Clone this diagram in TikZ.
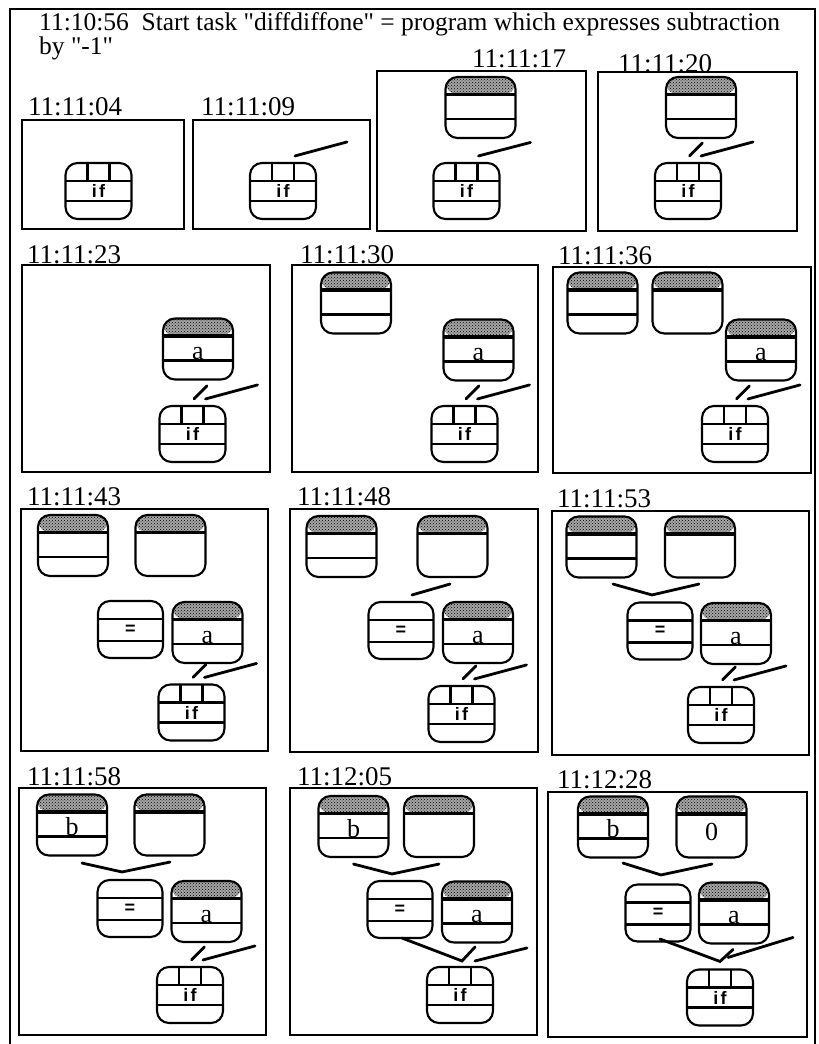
\documentclass[tikz,border=0pt]{standalone}
\usepackage{fontspec}
\setmainfont{Liberation Serif}[Ligatures=TeXOff]
\newfontfamily\cellfont{Liberation Sans}
\usetikzlibrary{calc,patterns}

\tikzset{
  panel/.style={draw,line width=2.6pt},
  stamp/.style={anchor=base west,inner sep=0pt,font=\fontsize{27}{27}\selectfont},
  wire/.style={line width=2.8pt,line cap=round},
  val/.style={anchor=base,inner sep=0pt,font=\fontsize{26}{26}\selectfont},
  ifbox/.style={draw,line width=2.1pt,rounded corners=12pt,minimum width=66pt,
    minimum height=56pt,inner sep=0pt,font=\cellfont\bfseries\fontsize{18}{18}\selectfont,
    path picture={
      \draw[line width=2.1pt]
        ([yshift=-18pt]path picture bounding box.north west) -- ([yshift=-18pt]path picture bounding box.north east)
        ([yshift=18pt]path picture bounding box.south west) -- ([yshift=18pt]path picture bounding box.south east)
        ([xshift=-11pt]path picture bounding box.north) -- ([xshift=-11pt,yshift=-18pt]path picture bounding box.north)
        ([xshift=11pt]path picture bounding box.north) -- ([xshift=11pt,yshift=-18pt]path picture bounding box.north);
    }},
  eqbox/.style={draw,line width=2.1pt,rounded corners=12pt,minimum width=65pt,
    minimum height=57pt,inner sep=0pt,font=\cellfont\bfseries\fontsize{18}{18}\selectfont,
    path picture={
      \draw[line width=2.1pt]
        ([yshift=-18pt]path picture bounding box.north west) -- ([yshift=-18pt]path picture bounding box.north east)
        ([yshift=17pt]path picture bounding box.south west) -- ([yshift=17pt]path picture bounding box.south east);
    }},
  varbox/.style={draw,line width=2.1pt,rounded corners=12pt,minimum width=70pt,
    minimum height=61pt,inner sep=0pt,
    path picture={
      \fill[gray!70] (path picture bounding box.north west) rectangle ([yshift=-17.5pt]path picture bounding box.north east);
      \fill[pattern=crosshatch dots] (path picture bounding box.north west) rectangle ([yshift=-17.5pt]path picture bounding box.north east);
      \draw[line width=3.6pt] ([yshift=-17.5pt]path picture bounding box.north west) -- ([yshift=-17.5pt]path picture bounding box.north east);
    }},
  cellbox/.style={varbox,
    path picture={
      \fill[gray!70] (path picture bounding box.north west) rectangle ([yshift=-17.5pt]path picture bounding box.north east);
      \fill[pattern=crosshatch dots] (path picture bounding box.north west) rectangle ([yshift=-17.5pt]path picture bounding box.north east);
      \draw[line width=3.6pt] ([yshift=-17.5pt]path picture bounding box.north west) -- ([yshift=-17.5pt]path picture bounding box.north east);
      \draw[line width=2.1pt] ([yshift=19pt]path picture bounding box.south west) -- ([yshift=19pt]path picture bounding box.south east);
    }},
}

\begin{document}
\begin{tikzpicture}[x=1pt,y=-1pt]
  \useasboundingbox (0,0) rectangle (819,1044);
  \draw[line width=2.6pt] (10,1044) -- (10,9) -- (815,9) -- (815,1044);
  \node[stamp,font=\fontsize{25.5}{25.5}\selectfont] (title) at (39,30) {11:10:56\ \ Start task "diffdiffone" = program which expresses subtraction};
  \node[stamp,font=\fontsize{25.5}{25.5}\selectfont] (title2) at (39,54) {by "-1"};

  % 11:11:04
  \draw[panel] (22,120) rectangle (184,229);
  \node[stamp] (t1) at (28,115) {11:11:04};
  \node[ifbox] (p1if) at (98.5,191) {i\kern2.5pt f};

  % 11:11:09
  \draw[panel] (193,120) rectangle (370,229);
  \node[stamp] (t2) at (201,115) {11:11:09};
  \node[ifbox] (p2if) at (283,191) {i\kern2.5pt f};
  \draw[wire] ($(p2if.north)+(12,-6)$) -- ++(52,-14);

  % 11:11:17
  \draw[panel] (377,71) rectangle (586,231);
  \node[stamp] (t3) at (472,67) {11:11:17};
  \node[cellbox] (p3v) at (480.5,107.5) {};
  \node[ifbox] (p3if) at (466.5,191) {i\kern2.5pt f};
  \draw[wire] ($(p3if.north)+(12,-6)$) -- ++(52,-13.5);

  % 11:11:20
  \draw[panel] (598,72) rectangle (797,231);
  \node[stamp] (t4) at (618,72) {11:11:20};
  \node[cellbox] (p4v) at (701,107.5) {};
  \node[ifbox] (p4if) at (688,191) {i\kern2.5pt f};
  \draw[wire] ($(p4if.north)+(1.5,-6)$) -- ++(13,-13);
  \draw[wire] ($(p4if.north)+(13,-6)$) -- ++(52,-14);

  % 11:11:23
  \draw[panel] (22,265) rectangle (270,472);
  \node[stamp] (t5) at (27,263) {11:11:23};
  \node[cellbox] (p5a) at (198,349) {};
  \node[val] (p5at) at ([yshift=-10.5pt]p5a.center) {a};
  \node[ifbox] (p5if) at (192.5,434) {i\kern2.5pt f};
  \draw[wire] ($(p5if.north)+(1.5,-6)$) -- ++(13,-13);
  \draw[wire] ($(p5if.north)+(13,-6)$) -- ++(52,-14);

  % 11:11:30
  \draw[panel] (292,265) rectangle (538,472);
  \node[stamp] (t6) at (300,263) {11:11:30};
  \node[cellbox] (p6v) at (356,303) {};
  \node[cellbox] (p6a) at (478.5,350) {};
  \node[val] (p6at) at ([yshift=-10.5pt]p6a.center) {a};
  \node[ifbox] (p6if) at (464.5,434) {i\kern2.5pt f};
  \draw[wire] ($(p6if.north)+(1.5,-6)$) -- ++(13,-13);
  \draw[wire] ($(p6if.north)+(13,-6)$) -- ++(52,-14);

  % 11:11:36
  \draw[panel] (553,267) rectangle (811,473);
  \node[stamp] (t7) at (558,264) {11:11:36};
  \node[cellbox] (p7v) at (602.5,303) {};
  \node[varbox] (p7w) at (687.5,303) {};
  \node[cellbox] (p7a) at (761,350) {};
  \node[val] (p7at) at ([yshift=-10.5pt]p7a.center) {a};
  \node[ifbox] (p7if) at (735,434) {i\kern2.5pt f};
  \draw[wire] ($(p7if.north)+(1.5,-6)$) -- ++(13,-13);
  \draw[wire] ($(p7if.north)+(13,-6)$) -- ++(52,-14);

  % 11:11:43
  \draw[panel] (21,509) rectangle (268,751);
  \node[stamp] (t8) at (27,505) {11:11:43};
  \node[cellbox] (p8v) at (73,545.5) {};
  \node[varbox] (p8w) at (170.5,545.5) {};
  \node[eqbox] (p8eq) at (130.5,629.5) {=};
  \node[cellbox] (p8a) at (207.5,632.5) {};
  \node[val] (p8at) at ([yshift=-10.5pt]p8a.center) {a};
  \node[ifbox] (p8if) at (191.5,712.5) {i\kern2.5pt f};
  \draw[wire] ($(p8if.north)+(1.5,-6)$) -- ++(13,-13);
  \draw[wire] ($(p8if.north)+(13,-6)$) -- ++(52,-14);

  % 11:11:48
  \draw[panel] (290,509) rectangle (538,752);
  \node[stamp] (t9) at (297,505) {11:11:48};
  \node[cellbox] (p9v) at (341.5,546.5) {};
  \node[varbox] (p9w) at (452.5,546.5) {};
  \node[eqbox] (p9eq) at (401,630.5) {=};
  \node[cellbox] (p9a) at (478,632.5) {};
  \node[val] (p9at) at ([yshift=-10.5pt]p9a.center) {a};
  \node[ifbox] (p9if) at (461.5,714) {i\kern2.5pt f};
  \draw[wire] ($(p9eq.north)+(11,-6)$) -- ($(p9w.south)+(-2.5,6)$);
  \draw[wire] ($(p9if.north)+(1.5,-6)$) -- ++(13,-13);
  \draw[wire] ($(p9if.north)+(13,-6)$) -- ++(52,-14);

  % 11:11:53
  \draw[panel] (552,511) rectangle (809,755);
  \node[stamp] (t10) at (557,507) {11:11:53};
  \node[cellbox] (p10v) at (601.5,547) {};
  \node[varbox] (p10w) at (700,547) {};
  \node[eqbox] (p10eq) at (660,631) {=};
  \node[cellbox] (p10a) at (736,633.5) {};
  \node[val] (p10at) at ([yshift=-10.5pt]p10a.center) {a};
  \node[ifbox] (p10if) at (721,715) {i\kern2.5pt f};
  \draw[wire] ($(p10v.south)+(11.5,5.5)$) -- ($(p10eq.north)+(-8,-6.5)$) -- ($(p10w.south)+(-1,5.5)$);
  \draw[wire] ($(p10if.north)+(1.5,-6)$) -- ++(13,-13);
  \draw[wire] ($(p10if.north)+(13,-6)$) -- ++(52,-14);

  % 11:11:58
  \draw[panel] (19,788) rectangle (266,1035);
  \node[stamp] (t11) at (27,785) {11:11:58};
  \node[cellbox] (p11v) at (72,825) {};
  \node[val] (p11vt) at ([yshift=-10.5pt]p11v.center) {b};
  \node[varbox] (p11w) at (169.5,825) {};
  \node[eqbox] (p11eq) at (130,908.5) {=};
  \node[cellbox] (p11a) at (206.5,911.5) {};
  \node[val] (p11at) at ([yshift=-10.5pt]p11a.center) {a};
  \node[ifbox] (p11if) at (190,995) {i\kern2.5pt f};
  \draw[wire] ($(p11v.south)+(10,6.5)$) -- ($(p11eq.north)+(-8,-7)$) -- ($(p11w.south)+(0.5,5.5)$);
  \draw[wire] ($(p11if.north)+(1.5,-6)$) -- ++(13,-13);
  \draw[wire] ($(p11if.north)+(13,-6)$) -- ++(52,-14);

  % 11:12:05
  \draw[panel] (290,788) rectangle (537,1035);
  \node[stamp] (t12) at (297,785) {11:12:05};
  \node[cellbox] (p12v) at (353.5,826.5) {};
  \node[val] (p12vt) at ([yshift=-10.5pt]p12v.center) {b};
  \node[varbox] (p12w) at (439,826.5) {};
  \node[eqbox] (p12eq) at (400,909.5) {=};
  \node[cellbox] (p12a) at (477,912) {};
  \node[val] (p12at) at ([yshift=-10.5pt]p12a.center) {a};
  \node[ifbox] (p12if) at (460,995) {i\kern2.5pt f};
  \draw[wire] ($(p12v.south)+(0,6)$) -- ($(p12eq.north)+(-8,-6)$) -- ($(p12w.south)+(0,6)$);
  \draw[wire] ($(p12eq.south)+(2,-1)$) -- ($(p12if.north)+(2,-5)$) -- ++(13,-14);
  \draw[wire] ($(p12if.north)+(15,-5)$) -- ++(52,-13);

  % 11:12:28
  \draw[panel] (548,792) rectangle (807,1037);
  \node[stamp] (t13) at (557,788) {11:12:28};
  \node[cellbox] (p13v) at (613,827) {};
  \node[val] (p13vt) at ([yshift=-10.5pt]p13v.center) {b};
  \node[varbox] (p13z) at (711.5,827) {};
  \node[val] (p13zt) at ([yshift=-13pt]p13z.center) {0};
  \node[eqbox] (p13eq) at (658,913) {=};
  \node[cellbox] (p13a) at (734,913) {};
  \node[val] (p13at) at ([yshift=-10.5pt]p13a.center) {a};
  \node[ifbox] (p13if) at (720,997.5) {i\kern2.5pt f};
  \draw[wire] ($(p13v.south)+(10,4.5)$) -- ($(p13eq.north)+(3,-8.5)$) -- ($(p13z.south)+(0.5,5.5)$);
  \draw[wire] ($(p13eq.south)+(2,-3.5)$) -- ($(p13if.north)+(0,-7)$) -- ++(13,-12);
  \draw[wire] ($(p13if.north)+(8,-11)$) -- ++(65,-20);
\end{tikzpicture}
\end{document}
